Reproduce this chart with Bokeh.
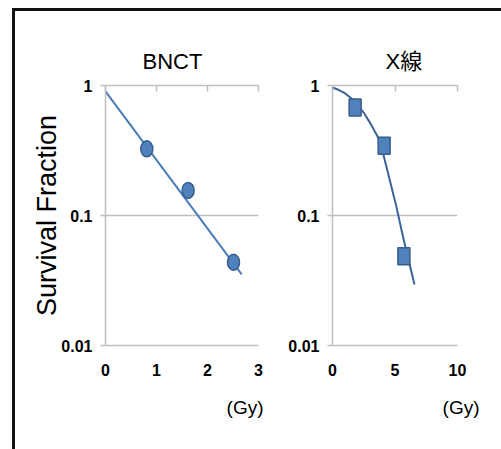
from bokeh.plotting import figure
from bokeh.layouts import row
from bokeh.models import FixedTicker, LinearAxis, Title
from bokeh.embed import file_html
from bokeh.resources import INLINE

# ---- data ----
bnct_dose = [0.81, 1.62, 2.51]
bnct_sf = [0.326, 0.156, 0.0437]
bnct_fit_dose = [0.0, 2.67]
bnct_fit_sf = [0.90, 0.0352]

xray_dose = [1.81, 4.13, 5.71]
xray_sf = [0.677, 0.344, 0.0486]
xray_fit_dose = [0.0, 0.47, 0.99, 1.52, 2.05, 2.57, 3.09, 3.70, 4.07, 4.59, 5.12, 5.51, 5.91, 6.56]
xray_fit_sf = [0.965, 0.927, 0.873, 0.794, 0.700, 0.604, 0.500, 0.389, 0.294, 0.186, 0.116, 0.078, 0.053, 0.0295]

y_ticks = [0.01, 0.1, 1]
y_tick_labels = {0.01: "0.01", 0.1: "0.1", 1: "1"}
bnct_x_ticks = [0, 1, 2, 3]
xray_x_ticks = [0, 5, 10]

titles = ["BNCT", "X線"]
y_title = "Survival Fraction"
unit_label = "(Gy)"

GRAY = "#BFBFBF"
FILL = "#4F81BD"
EDGE = "#385D8A"
FONT = "Liberation Sans"
TITLE_FONT = "Liberation Sans, Noto Sans CJK JP"


def make_panel(width, xr, xticks, border_left, border_right, title, title_offset, unit_offset):
    p = figure(width=width, height=438, x_range=xr, y_range=(0.01, 1),
               y_axis_type="log", x_axis_location=None,
               output_backend="svg", toolbar_location=None,
               min_border_left=border_left, min_border_right=border_right,
               min_border_top=74, min_border_bottom=104)
    p.outline_line_color = None
    p.background_fill_color = "white"
    p.border_fill_color = "white"
    p.xgrid.visible = False
    p.ygrid.ticker = FixedTicker(ticks=y_ticks)
    p.ygrid.grid_line_color = GRAY
    p.ygrid.grid_line_width = 1.5

    ya = p.yaxis[0]
    ya.ticker = FixedTicker(ticks=y_ticks)
    ya.major_label_overrides = y_tick_labels
    ya.axis_line_color = GRAY
    ya.axis_line_width = 1.5
    ya.major_tick_line_color = GRAY
    ya.major_tick_line_width = 1.5
    ya.major_tick_out = 5
    ya.major_tick_in = 0
    ya.minor_tick_line_color = None
    ya.major_label_standoff = 8
    ya.major_label_text_font = FONT
    ya.major_label_text_font_style = "bold"
    ya.major_label_text_font_size = "16px"
    ya.major_label_text_color = "black"

    top = LinearAxis(ticker=FixedTicker(ticks=xticks))
    top.axis_line_color = GRAY
    top.axis_line_width = 1.5
    top.major_tick_line_color = GRAY
    top.major_tick_line_width = 1.5
    top.major_tick_in = 6
    top.major_tick_out = 0
    top.minor_tick_line_color = None
    top.major_label_text_color = None
    top.major_label_text_font_size = "1px"
    top.major_label_standoff = 0
    p.add_layout(top, "above")

    bot = LinearAxis(ticker=FixedTicker(ticks=xticks))
    bot.axis_line_color = GRAY
    bot.axis_line_width = 1.5
    bot.major_tick_line_color = None
    bot.minor_tick_line_color = None
    bot.major_label_standoff = 12
    bot.major_label_text_font = FONT
    bot.major_label_text_font_style = "bold"
    bot.major_label_text_font_size = "16px"
    bot.major_label_text_color = "black"
    p.add_layout(bot, "below")

    p.title.text = title
    p.title.align = "left"
    p.title.offset = title_offset
    p.title.standoff = 24
    p.title.text_font = TITLE_FONT
    p.title.text_font_size = "22px"
    p.title.text_font_style = "normal"
    p.title.text_color = "black"

    unit = Title(text=unit_label, align="right", offset=unit_offset, standoff=32,
                 text_font=FONT, text_font_size="19px", text_font_style="normal",
                 text_color="black")
    p.add_layout(unit, "below")
    return p


p1 = make_panel(270, (0, 3), bnct_x_ticks, 90, 27, titles[0], 37, -5)
p1.yaxis[0].axis_label = y_title
p1.yaxis[0].axis_label_text_font = FONT
p1.yaxis[0].axis_label_text_font_size = "27px"
p1.yaxis[0].axis_label_text_font_style = "normal"
p1.yaxis[0].axis_label_text_color = "black"
p1.yaxis[0].axis_label_standoff = -4
p1.line(bnct_fit_dose, bnct_fit_sf, line_color="#4A7EBB", line_width=2)
p1.ellipse(x=bnct_dose, y=bnct_sf, width=12, height=16,
           width_units="screen", height_units="screen",
           fill_color=FILL, line_color=EDGE, line_width=1.5)

p2 = make_panel(216, (0, 10), xray_x_ticks, 45, 44, titles[1], 53, -22)
p2.line(xray_fit_dose, xray_fit_sf, line_color="#3A6496", line_width=2)
p2.rect(x=xray_dose, y=xray_sf, width=12, height=17,
        width_units="screen", height_units="screen",
        fill_color=FILL, line_color=EDGE, line_width=1.5)

layout = row(p1, p2, margin=(8, 0, 0, 12),
             styles={"border-top": "3px solid #111111",
                     "border-left": "3px solid #111111"})

open("out.html", "w").write(file_html(layout, INLINE))
